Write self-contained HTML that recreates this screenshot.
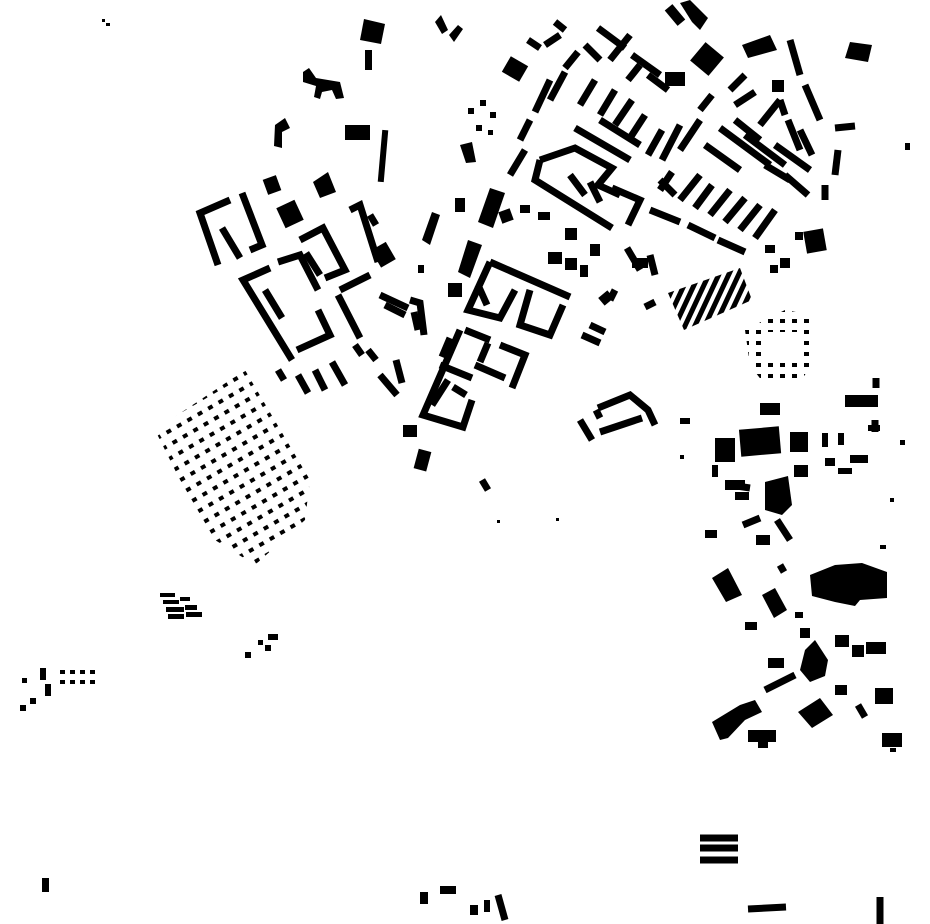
<!DOCTYPE html>
<html><head><meta charset="utf-8"><style>
html,body{margin:0;padding:0;background:#fff;}
svg{display:block;}
</style></head><body>
<svg width="930" height="924" viewBox="0 0 930 924" xmlns="http://www.w3.org/2000/svg">
<defs>
<pattern id="dots" width="12" height="12" patternUnits="userSpaceOnUse" patternTransform="rotate(-30)">
<rect x="0" y="0" width="5" height="4" fill="#000"/>
</pattern>
<pattern id="bars" width="9" height="60" patternUnits="userSpaceOnUse" patternTransform="rotate(25)">
<rect x="0" y="0" width="5" height="60" fill="#000"/>
</pattern>
<pattern id="ring" width="12" height="11" patternUnits="userSpaceOnUse">
<rect x="0" y="0" width="5" height="4" fill="#000"/>
</pattern>
<pattern id="ring2" width="10" height="10" patternUnits="userSpaceOnUse">
<rect x="0" y="0" width="5" height="4" fill="#000"/>
</pattern>
</defs>
<g fill="#000" stroke="none">
<rect x="102" y="19" width="3" height="3"/><rect x="106" y="23" width="4" height="3"/>
<polygon points="364,19 385,24 381,44 360,40"/>
<rect x="365" y="50" width="7" height="20"/>
<polygon points="435,22 441,15 448,30 442,34"/><polygon points="449,35 458,25 463,29 454,42"/>
<polygon points="303,72 309,68 316,78 340,82 344,98 336,99 332,90 322,92 320,99 314,97 316,86 303,82"/>
<rect x="345" y="125" width="25" height="15"/>
<rect x="380" y="130" width="6" height="52" transform="rotate(5 383 156)"/>
<polygon points="275,125 285,118 290,128 282,132 282,148 274,146"/>
<rect x="265" y="177" width="14" height="16" transform="rotate(-20 272 185)"/>
<rect x="280" y="203" width="20" height="22" transform="rotate(-25 290 214)"/>
<polygon points="313,182 328,172 336,192 320,198"/>
<rect x="455" y="198" width="10" height="14"/>
<polygon points="460,145 472,142 476,162 466,163"/>
</g>
<g stroke="#000" stroke-width="7" fill="none" stroke-linecap="butt">
<polyline points="230,200 200,213 218,265"/>
<polyline points="242,193 262,245 250,250"/>
<line x1="222" y1="228" x2="240" y2="258"/>
<polyline points="270,268 243,280 292,360"/>
<polyline points="278,262 300,255 318,290"/>
<line x1="265" y1="290" x2="282" y2="318"/>
<polyline points="297,350 330,335 318,310"/>
<polyline points="300,240 323,228 345,270 325,278"/>
<line x1="306" y1="253" x2="320" y2="275"/>
<polyline points="350,210 360,205 378,262"/>
<line x1="370" y1="215" x2="376" y2="225"/>
<line x1="340" y1="290" x2="370" y2="275"/>
<line x1="338" y1="295" x2="360" y2="338"/>
<line x1="278" y1="370" x2="284" y2="380"/>
<line x1="298" y1="375" x2="308" y2="393"/>
<line x1="315" y1="370" x2="325" y2="390"/>
<line x1="332" y1="362" x2="345" y2="385"/>
<line x1="355" y1="345" x2="362" y2="355"/>
<line x1="368" y1="350" x2="376" y2="360"/>
<line x1="380" y1="375" x2="397" y2="395"/>
<line x1="396" y1="360" x2="402" y2="383"/>
<line x1="380" y1="295" x2="408" y2="308"/>
<line x1="385" y1="305" x2="405" y2="315"/>
<polyline points="410,300 420,303 424,335"/>
<line x1="414" y1="312" x2="418" y2="330"/>
<polyline points="490,262 468,310 500,318 515,290"/>
<line x1="490" y1="262" x2="570" y2="297"/>
<polyline points="530,290 520,325 550,335 563,305"/>
<line x1="478" y1="285" x2="487" y2="305"/>
<polyline points="460,330 423,415 463,427 472,400"/>
<line x1="465" y1="330" x2="490" y2="340"/>
<polyline points="448,380 432,405"/>
<line x1="440" y1="365" x2="472" y2="378"/>
<line x1="453" y1="387" x2="466" y2="395"/>
<polyline points="500,345 525,355 512,388"/>
<line x1="475" y1="365" x2="505" y2="378"/>
<line x1="488" y1="343" x2="480" y2="362"/>
<line x1="450" y1="338" x2="442" y2="357"/>
<line x1="590" y1="325" x2="605" y2="332"/>
<line x1="582" y1="335" x2="600" y2="343"/>
<line x1="580" y1="420" x2="592" y2="440"/>
<polyline points="598,408 630,395 648,410 655,425"/>
<line x1="600" y1="432" x2="642" y2="418"/>
<line x1="596" y1="410" x2="600" y2="418"/>
<line x1="610" y1="300" x2="615" y2="290"/>
<line x1="645" y1="307" x2="655" y2="302"/>
<polyline points="540,160 575,148 612,168 598,185 620,195"/>
<polyline points="540,160 535,180 612,228"/>
<polyline points="612,188 640,200 628,225"/>
<line x1="570" y1="175" x2="585" y2="195"/>
<line x1="590" y1="182" x2="600" y2="202"/>
<line x1="575" y1="128" x2="630" y2="160"/>
<line x1="600" y1="120" x2="640" y2="145"/>
<line x1="510" y1="175" x2="525" y2="150"/>
<line x1="520" y1="140" x2="530" y2="120"/>
<line x1="535" y1="112" x2="550" y2="80"/>
<line x1="550" y1="100" x2="565" y2="72"/>
<line x1="565" y1="68" x2="578" y2="52"/>
<line x1="585" y1="45" x2="600" y2="60"/>
<line x1="598" y1="28" x2="625" y2="48"/>
<line x1="632" y1="55" x2="660" y2="75"/>
<line x1="580" y1="105" x2="595" y2="80"/>
<line x1="600" y1="115" x2="615" y2="90"/>
<line x1="615" y1="125" x2="632" y2="100"/>
<line x1="630" y1="138" x2="645" y2="115"/>
<line x1="648" y1="155" x2="662" y2="130"/>
<line x1="662" y1="160" x2="680" y2="125"/>
<line x1="680" y1="150" x2="700" y2="120"/>
<line x1="700" y1="110" x2="712" y2="95"/>
<line x1="610" y1="60" x2="630" y2="35"/>
<line x1="628" y1="80" x2="640" y2="65"/>
<line x1="648" y1="75" x2="668" y2="90"/>
<line x1="660" y1="180" x2="675" y2="195"/>
<line x1="660" y1="190" x2="672" y2="172"/>
<line x1="680" y1="200" x2="700" y2="175"/>
<line x1="695" y1="208" x2="712" y2="185"/>
<line x1="710" y1="215" x2="730" y2="190"/>
<line x1="725" y1="222" x2="745" y2="198"/>
<line x1="740" y1="230" x2="760" y2="205"/>
<line x1="755" y1="238" x2="775" y2="210"/>
<line x1="650" y1="210" x2="680" y2="222"/>
<line x1="688" y1="225" x2="715" y2="238"/>
<line x1="718" y1="240" x2="745" y2="252"/>
<line x1="705" y1="145" x2="740" y2="170"/>
<line x1="720" y1="128" x2="770" y2="165"/>
<line x1="745" y1="135" x2="785" y2="165"/>
<line x1="765" y1="165" x2="790" y2="180"/>
<line x1="775" y1="145" x2="810" y2="170"/>
<line x1="785" y1="175" x2="808" y2="195"/>
<line x1="735" y1="105" x2="755" y2="92"/>
<line x1="735" y1="120" x2="760" y2="140"/>
<line x1="730" y1="90" x2="745" y2="75"/>
<line x1="760" y1="125" x2="780" y2="100"/>
<line x1="785" y1="115" x2="780" y2="100"/>
<line x1="790" y1="40" x2="800" y2="75"/>
<line x1="805" y1="85" x2="820" y2="120"/>
<line x1="800" y1="130" x2="812" y2="155"/>
<line x1="788" y1="120" x2="800" y2="150"/>
<line x1="835" y1="128" x2="855" y2="126"/>
<line x1="838" y1="150" x2="835" y2="175"/>
<line x1="825" y1="185" x2="825" y2="200"/>
<line x1="627" y1="248" x2="640" y2="270"/>
<line x1="650" y1="255" x2="655" y2="275"/>
<line x1="555" y1="22" x2="565" y2="30"/>
<line x1="528" y1="40" x2="540" y2="48"/>
<line x1="545" y1="45" x2="560" y2="35"/>
<line x1="765" y1="690" x2="795" y2="675"/>
<line x1="777" y1="520" x2="790" y2="540"/>
<line x1="780" y1="565" x2="784" y2="572"/>
<line x1="858" y1="705" x2="865" y2="717"/>
<line x1="876" y1="378" x2="876" y2="388"/>
<line x1="730" y1="485" x2="750" y2="488"/>
<line x1="743" y1="525" x2="760" y2="518"/>
<line x1="875" y1="420" x2="875" y2="432"/>
<line x1="700" y1="848" x2="738" y2="848"/>
<line x1="700" y1="838" x2="738" y2="838"/>
<line x1="700" y1="860" x2="738" y2="860"/>
<line x1="748" y1="909" x2="786" y2="907"/>
<line x1="880" y1="897" x2="880" y2="924"/>
<line x1="498" y1="895" x2="505" y2="920"/>
<line x1="482" y1="480" x2="488" y2="490"/>
</g>
<g fill="#000">
<polygon points="422,240 432,212 440,215 430,245"/>
<polygon points="458,272 468,240 482,245 470,278"/>
<polygon points="478,222 490,188 505,193 493,228"/>
<rect x="448" y="283" width="14" height="14"/>
<rect x="403" y="425" width="14" height="12"/>
<rect x="416" y="450" width="13" height="20" transform="rotate(15 422 460)"/>
<rect x="375" y="245" width="17" height="20" transform="rotate(-30 383 255)"/>
<rect x="418" y="265" width="6" height="8"/>
<rect x="548" y="252" width="14" height="12"/><rect x="565" y="258" width="12" height="12"/>
<rect x="580" y="265" width="8" height="12"/>
<rect x="565" y="228" width="12" height="12"/><rect x="590" y="244" width="10" height="12"/>
<rect x="500" y="210" width="12" height="12" transform="rotate(-20 506 216)"/>
<rect x="520" y="205" width="10" height="8"/><rect x="538" y="212" width="12" height="8"/>
<rect x="600" y="293" width="12" height="10" transform="rotate(-40 606 298)"/>
<rect x="632" y="258" width="16" height="10"/>
<rect x="670" y="5" width="10" height="20" transform="rotate(-40 675 15)"/>
<polygon points="680,3 690,0 708,18 700,30 692,22"/>
<rect x="695" y="47" width="24" height="24" transform="rotate(40 707 59)"/>
<rect x="665" y="72" width="20" height="14"/>
<rect x="505" y="60" width="20" height="18" transform="rotate(30 515 69)"/>
<polygon points="742,45 770,35 777,50 748,58"/>
<polygon points="850,42 872,45 868,62 845,58"/>
<rect x="772" y="80" width="12" height="12"/>
<rect x="805" y="230" width="20" height="22" transform="rotate(-10 815 241)"/>
<rect x="765" y="245" width="10" height="8"/><rect x="780" y="258" width="10" height="10"/>
<rect x="770" y="265" width="8" height="8"/><rect x="795" y="232" width="8" height="8"/>
<rect x="905" y="143" width="5" height="7"/>
<rect x="468" y="108" width="6" height="6"/><rect x="480" y="100" width="6" height="6"/>
<rect x="490" y="112" width="6" height="6"/><rect x="476" y="125" width="6" height="6"/>
<rect x="488" y="130" width="5" height="5"/>
<polygon points="668,293 740,268 752,300 684,330" fill="url(#bars)"/>
<polygon points="745,330 785,310 812,315 815,360 800,382 765,385 750,365" fill="url(#ring)"/>
<rect x="765" y="332" width="32" height="30" fill="#fff"/>
<polygon points="155,430 245,370 310,480 305,520 255,565 215,540 180,480" fill="url(#dots)"/>
<rect x="760" y="403" width="20" height="12"/>
<rect x="845" y="395" width="33" height="12"/>
<rect x="740" y="428" width="40" height="27" transform="rotate(-5 760 441)"/>
<rect x="715" y="438" width="20" height="24"/>
<rect x="790" y="432" width="18" height="20"/>
<rect x="822" y="433" width="6" height="14"/><rect x="838" y="433" width="6" height="12"/>
<rect x="850" y="455" width="18" height="8"/>
<rect x="825" y="458" width="10" height="8"/>
<rect x="838" y="468" width="14" height="6"/>
<rect x="868" y="425" width="12" height="6"/>
<rect x="900" y="440" width="5" height="5"/>
<rect x="680" y="418" width="10" height="6"/>
<rect x="794" y="465" width="14" height="12"/>
<rect x="712" y="465" width="6" height="12"/>
<rect x="725" y="480" width="20" height="10"/>
<rect x="735" y="492" width="14" height="8"/>
<polygon points="765,482 788,476 792,505 782,515 765,510"/>
<rect x="756" y="535" width="14" height="10"/>
<rect x="705" y="530" width="12" height="8"/>
<polygon points="712,578 728,568 742,595 726,602"/>
<polygon points="762,595 775,588 787,610 774,618"/>
<rect x="745" y="622" width="12" height="8"/>
<polygon points="810,575 835,565 862,563 887,572 887,598 860,600 855,606 835,602 812,596"/>
<rect x="795" y="612" width="8" height="6"/>
<rect x="800" y="628" width="10" height="10"/>
<polygon points="805,650 815,640 828,660 825,676 810,682 800,670"/>
<rect x="835" y="635" width="14" height="12"/>
<rect x="852" y="645" width="12" height="12"/><rect x="866" y="642" width="20" height="12"/>
<rect x="768" y="658" width="16" height="10"/>
<rect x="835" y="685" width="12" height="10"/>
<rect x="875" y="688" width="18" height="16"/>
<polygon points="798,712 820,698 833,715 812,728"/>
<polygon points="712,722 740,705 755,700 762,712 745,720 728,738 720,740"/>
<rect x="748" y="730" width="28" height="12"/>
<rect x="758" y="740" width="10" height="8"/>
<rect x="882" y="733" width="20" height="14"/>
<rect x="890" y="748" width="6" height="4"/>
<rect x="880" y="545" width="6" height="4"/><rect x="890" y="498" width="4" height="4"/>
<rect x="680" y="455" width="4" height="4"/>
<rect x="160" y="593" width="15" height="4"/><rect x="163" y="600" width="16" height="4"/>
<rect x="180" y="597" width="10" height="4"/><rect x="166" y="607" width="18" height="5"/>
<rect x="185" y="605" width="12" height="5"/><rect x="168" y="614" width="16" height="5"/>
<rect x="186" y="612" width="16" height="5"/>
<rect x="245" y="652" width="6" height="6"/><rect x="258" y="640" width="5" height="5"/>
<rect x="268" y="634" width="10" height="6"/><rect x="265" y="645" width="6" height="6"/>
<rect x="58" y="664" width="38" height="22" fill="url(#ring2)"/>
<rect x="40" y="668" width="6" height="12"/><rect x="45" y="684" width="6" height="12"/>
<rect x="22" y="678" width="5" height="5"/><rect x="20" y="705" width="6" height="6"/>
<rect x="30" y="698" width="6" height="6"/>
<rect x="42" y="878" width="7" height="14"/>
<rect x="420" y="892" width="8" height="12"/><rect x="440" y="886" width="16" height="8"/>
<rect x="470" y="905" width="8" height="10"/><rect x="484" y="900" width="6" height="12"/>
<rect x="497" y="520" width="3" height="3"/><rect x="556" y="518" width="3" height="3"/>
</g>
</svg>
</body></html>
